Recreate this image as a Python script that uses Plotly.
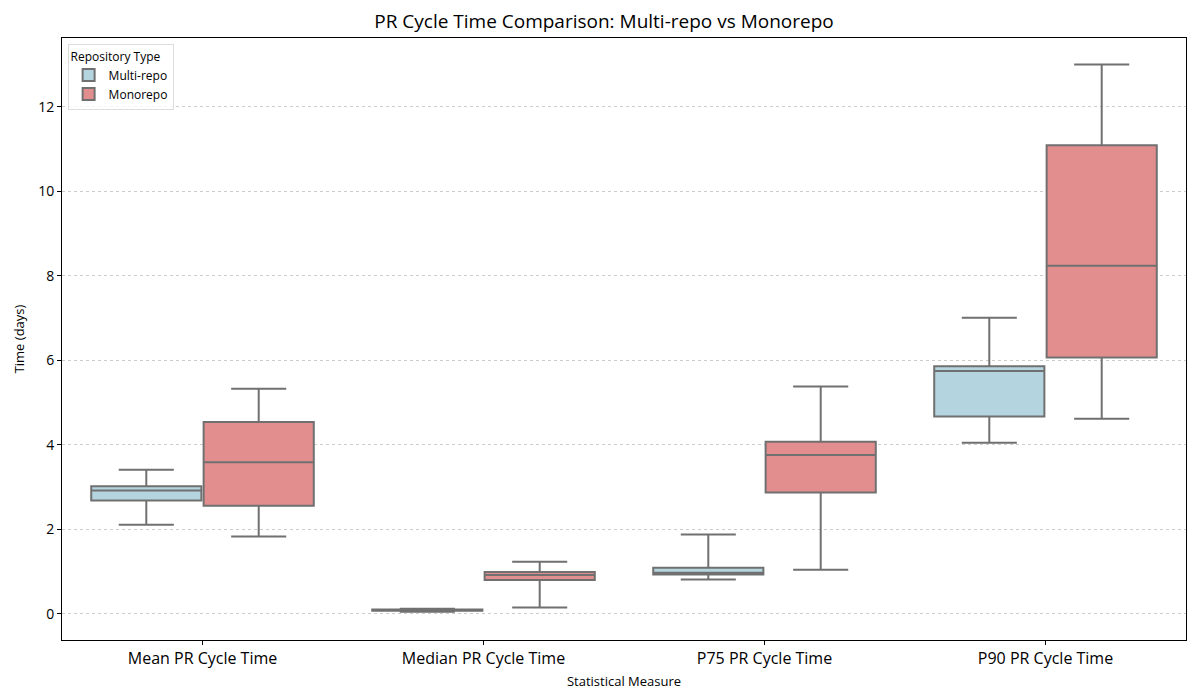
import plotly.graph_objects as go

categories = ["Mean PR Cycle Time", "Median PR Cycle Time", "P75 PR Cycle Time", "P90 PR Cycle Time"]

multi_low = [2.11, 0.05, 0.81, 4.05]
multi_q1 = [2.68, 0.07, 0.93, 4.67]
multi_med = [2.92, 0.08, 0.97, 5.75]
multi_q3 = [3.02, 0.10, 1.09, 5.86]
multi_high = [3.41, 0.12, 1.88, 7.01]

mono_low = [1.83, 0.15, 1.04, 4.62]
mono_q1 = [2.56, 0.80, 2.87, 6.07]
mono_med = [3.59, 0.92, 3.76, 8.24]
mono_q3 = [4.54, 0.99, 4.07, 11.09]
mono_high = [5.33, 1.23, 5.38, 13.0]

y_ticks = [0, 2, 4, 6, 8, 10, 12]

FONT = "Open Sans"
LINE = "#707070"

fig = go.Figure()
fig.add_trace(go.Box(
    name="Multi-repo", x=categories,
    lowerfence=multi_low, q1=multi_q1, median=multi_med, q3=multi_q3, upperfence=multi_high,
    fillcolor="#B4D5DF", line=dict(color=LINE, width=2), whiskerwidth=0.5,
    boxpoints=False, hoverinfo="skip",
))
fig.add_trace(go.Box(
    name="Monorepo", x=categories,
    lowerfence=mono_low, q1=mono_q1, median=mono_med, q3=mono_q3, upperfence=mono_high,
    fillcolor="#E28E8F", line=dict(color=LINE, width=2), whiskerwidth=0.5,
    boxpoints=False, hoverinfo="skip",
))

fig.update_layout(
    width=1192, height=692,
    boxmode="group", boxgap=0.2, boxgroupgap=0.02,
    paper_bgcolor="white", plot_bgcolor="white",
    margin=dict(l=54, r=14, t=30, b=60),
    font=dict(family=FONT, color="black"),
    title=dict(text="PR Cycle Time Comparison: Multi-repo vs Monorepo", x=0.5, xanchor="center",
               yref="container", y=0.98, yanchor="middle", font=dict(size=19, family=FONT, color="black")),
    legend=dict(title=dict(text="Repository Type", font=dict(size=12)), x=0.005, y=0.99,
                xanchor="left", yanchor="top", bordercolor="#DDDDDD", borderwidth=1,
                bgcolor="rgba(255,255,255,0.8)", font=dict(size=12)),
    xaxis=dict(title=dict(text="Statistical Measure", font=dict(size=13), standoff=8),
               showline=True, linecolor="black", linewidth=1, mirror=True,
               ticks="outside", ticklen=4, tickcolor="black", tickfont=dict(size=16),
               showgrid=False, range=[-0.5, 3.5]),
    yaxis=dict(title=dict(text="Time (days)", font=dict(size=13), standoff=10),
               showline=True, linecolor="black", linewidth=1, mirror=True,
               ticks="outside", ticklen=4, tickcolor="black", tickfont=dict(size=14),
               tickvals=y_ticks, range=[-0.62, 13.63], zeroline=False,
               showgrid=True, gridcolor="#CCCCCC", griddash="3px,3px", gridwidth=1),
)

fig.write_html("out.html")
